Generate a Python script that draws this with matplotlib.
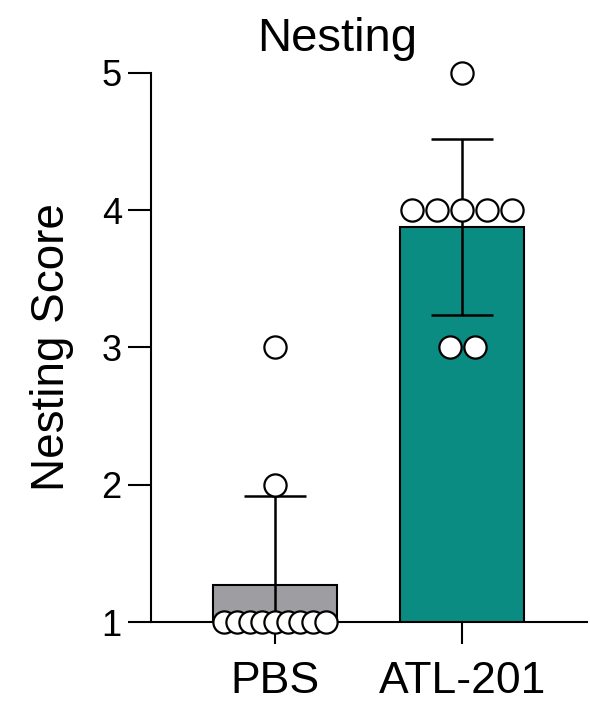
import numpy as np
import matplotlib
matplotlib.use("Agg")
import matplotlib.pyplot as plt

plt.rcParams['font.family'] = ['Liberation Sans', 'DejaVu Sans']

groups = ["PBS", "ATL-201"]
pbs_scores = [1, 1, 1, 1, 1, 1, 1, 1, 1, 2, 3]
atl_scores = [5, 4, 4, 4, 4, 4, 3, 3]
yticks = [1, 2, 3, 4, 5]

bar_colors = ["#9e9ea2", "#0a8c82"]


def swarm_offsets(vals, spacing):
    # spread equal values side by side, centred on the group
    vals = np.asarray(vals, dtype=float)
    offs = np.zeros(len(vals))
    for v in np.unique(vals):
        idx = np.where(vals == v)[0]
        k = len(idx)
        offs[idx] = (np.arange(k) - (k - 1) / 2) * spacing
    return offs


fig = plt.figure(figsize=(5.9, 7.07), dpi=100)
ax = fig.add_axes([151 / 590, 1 - 622 / 707, (587 - 151) / 590, (622 - 73) / 707])

data = [pbs_scores, atl_scores]
spacings = [0.068, 0.134]
for i, vals in enumerate(data):
    m = np.mean(vals)
    sd = np.std(vals, ddof=1)
    ax.bar(i, m, width=0.663, bottom=0, color=bar_colors[i], edgecolor="black",
           linewidth=1.5, zorder=2)
    ax.errorbar(i, m, yerr=sd, color="black", capsize=22, capthick=1.8,
                elinewidth=1.8, zorder=3)
    xs = i + swarm_offsets(vals, spacings[i])
    ax.plot(xs, vals, "o", ms=16, mfc="white", mec="black", mew=1.6,
            clip_on=False, zorder=4)

ax.set_xlim(-0.663, 1.668)
ax.set_ylim(1, 5)
ax.set_yticks(yticks)
ax.set_xticks(range(len(groups)))
ax.set_xticklabels(groups)

for s in ["top", "right"]:
    ax.spines[s].set_visible(False)
for s in ["left", "bottom"]:
    ax.spines[s].set_linewidth(1.5)
ax.tick_params(axis="y", length=16.5, width=1.5, labelsize=26, pad=4.5)
ax.tick_params(axis="x", length=16, width=1.5, labelsize=32, pad=12)
ax.set_ylabel("Nesting Score", fontsize=33, labelpad=20)

fig.text(337 / 590, 1 - 51 / 707, "Nesting", fontsize=34, ha="center", va="baseline")

fig.savefig("out.png", dpi=100)
